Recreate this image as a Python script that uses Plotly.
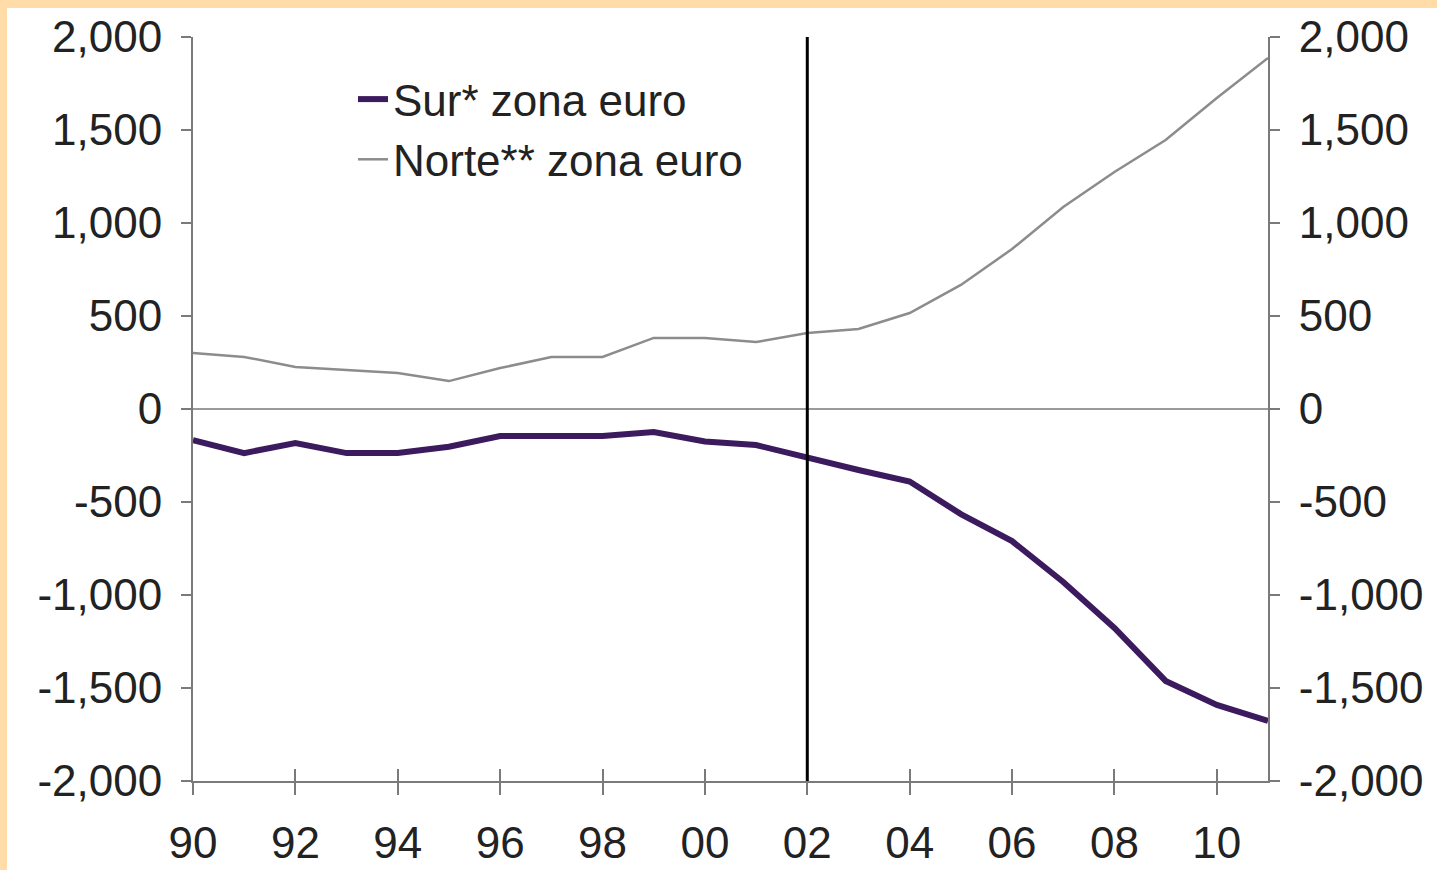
import plotly.graph_objects as go

years = list(range(1990, 2012))
sur = [-167, -237, -183, -237, -237, -203, -145, -145, -145, -124, -175, -194,
       -263, -328, -390, -565, -710, -930, -1177, -1462, -1591, -1677]
norte = [301, 280, 226, 210, 193, 150, 220, 280, 280, 382, 382, 360,
         408, 430, 516, 667, 860, 1086, 1274, 1446, 1672, 1887]
x_tick_vals = list(range(1990, 2011, 2))
x_tick_text = ["90", "92", "94", "96", "98", "00", "02", "04", "06", "08", "10"]
y_tick_vals = [-2000, -1500, -1000, -500, 0, 500, 1000, 1500, 2000]
y_tick_text = ["-2,000", "-1,500", "-1,000", "-500", "0", "500", "1,000", "1,500", "2,000"]
divider_year = 2002
sur_name = "Sur* zona euro"
norte_name = "Norte** zona euro"

W, H = 1437, 870
ML, MR, MT, MB = 193, 169, 37, 89
PW, PH = W - ML - MR, H - MT - MB

FONT = "Liberation Sans, Arial, sans-serif"
TXT = "#222222"
AX = "#7a7a7a"
PEACH = "#FFDCA8"
TICKSIZE = 44

fig = go.Figure()
fig.add_trace(go.Scatter(x=years, y=sur, name=sur_name, mode="lines",
                         line=dict(color="#3C1A5E", width=6), xaxis="x", yaxis="y"))
fig.add_trace(go.Scatter(x=years, y=norte, name=norte_name, mode="lines",
                         line=dict(color="#8c8c8c", width=2.5), xaxis="x2", yaxis="y2"))

xr = [years[0], years[-1]]
yr = [y_tick_vals[0], y_tick_vals[-1]]

fig.update_layout(
    width=W, height=H,
    margin=dict(l=ML, r=MR, t=MT, b=MB, autoexpand=False),
    paper_bgcolor="white", plot_bgcolor="white",
    font=dict(family=FONT, size=TICKSIZE, color=TXT),
    showlegend=True,
    legend=dict(x=(353 - ML) / PW, y=(H - MB - 64) / PH, xanchor="left", yanchor="top",
                bgcolor="white", borderwidth=0, font=dict(size=44, color=TXT),
                tracegroupgap=0),
    xaxis=dict(range=xr, tickvals=x_tick_vals, ticktext=x_tick_text, automargin=False,
               showgrid=False, zeroline=False, showline=True, linecolor=AX, linewidth=2,
               ticks="outside", ticklen=12, tickwidth=2, tickcolor=AX,
               ticklabelstandoff=10, tickfont=dict(size=TICKSIZE, color=TXT), anchor="y"),
    xaxis2=dict(range=xr, tickvals=x_tick_vals, overlaying="x", side="bottom",
                automargin=False,
                showticklabels=False, showgrid=False, zeroline=False, showline=False,
                ticks="inside", ticklen=12, tickwidth=2, tickcolor=AX, anchor="y"),
    yaxis=dict(range=yr, tickvals=y_tick_vals, ticktext=y_tick_text, automargin=False,
               showgrid=False, zeroline=True, zerolinecolor="#9a9a9a", zerolinewidth=2,
               showline=True, linecolor=AX, linewidth=2,
               ticks="outside", ticklen=10, tickwidth=2, tickcolor=AX,
               ticklabelstandoff=10, tickfont=dict(size=TICKSIZE, color=TXT), anchor="x"),
    yaxis2=dict(range=yr, tickvals=y_tick_vals, ticktext=y_tick_text, overlaying="y",
                side="right", anchor="x2", automargin=False,
                showgrid=False, zeroline=False, showline=True, linecolor=AX, linewidth=2,
                ticks="outside", ticklen=10, tickwidth=2, tickcolor=AX,
                ticklabelstandoff=10, tickfont=dict(size=TICKSIZE, color=TXT)),
)

fig.add_vline(x=divider_year, line=dict(color="black", width=3))

# peach frame strips (top and left)
fig.add_shape(type="rect", xref="paper", yref="paper", layer="above",
              x0=-ML / PW, x1=(W - ML) / PW, y0=1 + (MT - 8) / PH, y1=1 + MT / PH,
              fillcolor=PEACH, line=dict(width=0))
fig.add_shape(type="rect", xref="paper", yref="paper", layer="above",
              x0=-ML / PW, x1=-(ML - 7) / PW, y0=-MB / PH, y1=1 + MT / PH,
              fillcolor=PEACH, line=dict(width=0))

fig.write_html("out.html", config={"displayModeBar": False},
               post_script="document.body.style.margin='0';document.body.style.padding='0';")
